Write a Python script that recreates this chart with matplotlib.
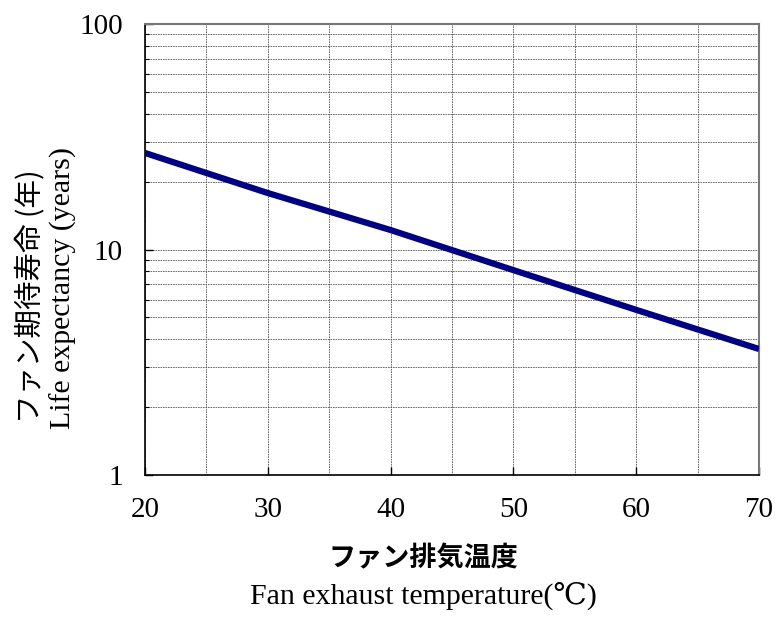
import matplotlib
matplotlib.use('Agg')
from matplotlib import pyplot as plt
from matplotlib.ticker import LogLocator, NullFormatter, FixedLocator
import numpy as np

temps = [20, 30, 40, 50, 60, 70]
life_years = [26.8, 17.8, 12.2, 8.1, 5.4, 3.62]
x_ticks = [20, 30, 40, 50, 60, 70]
y_ticks = [1, 10, 100]
y_tick_labels = ['1', '10', '100']

SERIF = ['Liberation Serif', 'DejaVu Serif', 'Noto Sans CJK JP']
JP = ['Noto Sans CJK JP', 'Liberation Serif']

fig = plt.figure(figsize=(7.76, 6.17), dpi=100)
ax = fig.add_axes([145/776, 1 - 475/617, (759-145)/776, (475-24)/617])

ax.plot(temps, life_years, color='#000080', linewidth=4.5, solid_capstyle='butt', zorder=3)

ax.set_yscale('log')
ax.set_xlim(20, 70)
ax.set_ylim(1, 100)

ax.xaxis.set_major_locator(FixedLocator(x_ticks))
ax.xaxis.set_minor_locator(FixedLocator([25, 35, 45, 55, 65]))
ax.yaxis.set_major_locator(FixedLocator(y_ticks))
ax.yaxis.set_minor_locator(LogLocator(base=10, subs=np.arange(2, 10)))
ax.yaxis.set_minor_formatter(NullFormatter())
ax.set_yticklabels(y_tick_labels, family=SERIF, fontsize=21)
ax.set_xticklabels([str(t) for t in x_ticks], family=SERIF, fontsize=21)

ax.grid(True, which='both', color='#555555', linestyle=(0, (2, 1)), linewidth=0.6)
ax.tick_params(which='both', direction='in', top=False, right=False)
ax.tick_params(which='major', length=6, width=1)
ax.tick_params(which='minor', length=3, width=0.8)
ax.tick_params(axis='x', which='minor', length=0)
ax.tick_params(axis='x', pad=16)
ax.tick_params(axis='y', pad=16)

for s in ['left', 'bottom']:
    ax.spines[s].set_color('black')
    ax.spines[s].set_linewidth(1.2)
for s in ['top', 'right']:
    ax.spines[s].set_color('#777777')
    ax.spines[s].set_linewidth(1.5)

fig.text(423/776, 1 - 558/617, 'ファン排気温度', family=JP, fontweight='bold',
         fontsize=19.5, ha='center', va='center')
fig.text(423/776, 1 - 596/617, 'Fan exhaust temperature(℃)', family=SERIF,
         fontsize=21.5, ha='center', va='center')
fig.text(30/776, 1 - 296/617, 'ファン期待寿命 (年)', family=JP, fontsize=20.5,
         rotation=90, ha='center', va='center')
fig.text(63/776, 1 - 288/617, 'Life expectancy (years)', family=SERIF, fontsize=21.5,
         rotation=90, ha='center', va='center')

fig.savefig('out.png', dpi=100)
